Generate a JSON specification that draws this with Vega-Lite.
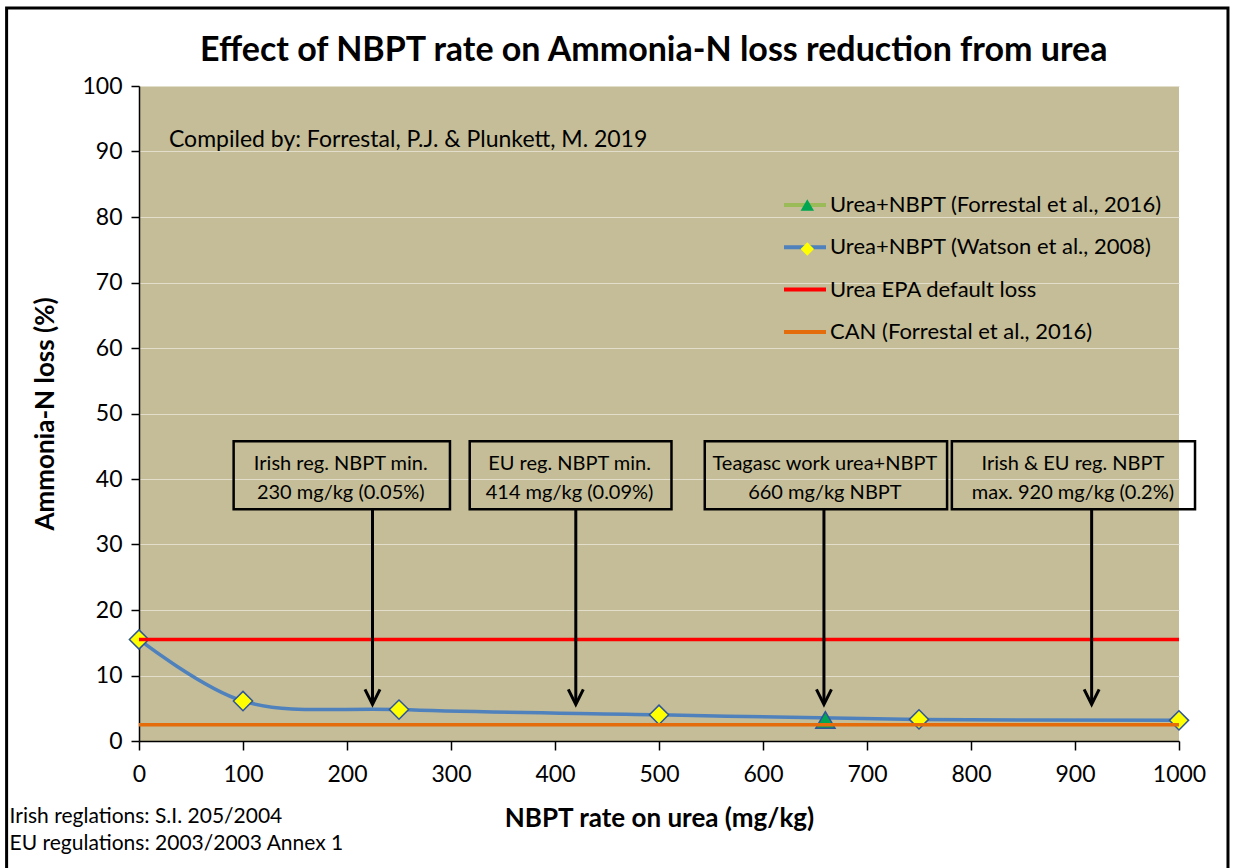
{
  "$schema": "https://vega.github.io/schema/vega-lite/v6.json",
  "width": 1040,
  "height": 655,
  "autosize": "none",
  "padding": {"left": 139, "top": 86, "right": 56, "bottom": 127},
  "background": "white",
  "config": {
    "view": {"stroke": null, "fill": "#C4BD97"},
    "font": "Lato",
    "axis": {
      "domainColor": "black",
      "domainWidth": 1.5,
      "tickColor": "black",
      "tickWidth": 1.5,
      "labelColor": "black",
      "labelFont": "Lato",
      "labelFontSize": 23,
      "titleFont": "Lato",
      "titleFontSize": 26,
      "titleFontWeight": "bold",
      "titleColor": "black"
    }
  },
  "datasets": {
    "series": [
      {"rate": 660, "loss": 3.2, "series": "Urea+NBPT (Forrestal et al., 2016)"},
      {"rate": 0, "loss": 15.5, "series": "Urea+NBPT (Watson et al., 2008)"},
      {"rate": 100, "loss": 6.1, "series": "Urea+NBPT (Watson et al., 2008)"},
      {"rate": 250, "loss": 4.8, "series": "Urea+NBPT (Watson et al., 2008)"},
      {"rate": 500, "loss": 4.0, "series": "Urea+NBPT (Watson et al., 2008)"},
      {"rate": 750, "loss": 3.3, "series": "Urea+NBPT (Watson et al., 2008)"},
      {"rate": 1000, "loss": 3.15, "series": "Urea+NBPT (Watson et al., 2008)"},
      {"rate": 0, "loss": 15.5, "series": "Urea EPA default loss"},
      {"rate": 1000, "loss": 15.5, "series": "Urea EPA default loss"},
      {"rate": 0, "loss": 2.5, "series": "CAN (Forrestal et al., 2016)"},
      {"rate": 1000, "loss": 2.5, "series": "CAN (Forrestal et al., 2016)"}
    ],
    "notes": [
      {"rate": 224.5, "box_start": 91, "box_end": 299, "label_x": 194, "label": "Irish  reg. NBPT min.\n230 mg/kg (0.05%)"},
      {"rate": 420, "box_start": 318, "box_end": 512, "label_x": 414, "label": "EU  reg. NBPT min.\n414 mg/kg (0.09%)"},
      {"rate": 658.6, "box_start": 544, "box_end": 777, "label_x": 659.5, "label": "Teagasc work urea+NBPT\n660 mg/kg NBPT"},
      {"rate": 916, "box_start": 781.6, "box_end": 1015.4, "label_x": 898, "label": "Irish & EU  reg. NBPT\nmax. 920 mg/kg (0.2%)"}
    ],
    "footnotes": [
      {"text": "Irish reglations: S.I. 205/2004", "line": 1},
      {"text": "EU regulations:  2003/2003 Annex 1", "line": 2}
    ]
  },
  "layer": [
    {
      "data": {"name": "series"},
      "transform": [{"filter": "datum.series == 'Urea+NBPT (Watson et al., 2008)'"}],
      "mark": {"type": "line", "interpolate": "catmull-rom", "strokeWidth": 3.5},
      "encoding": {
        "x": {"field": "rate", "type": "quantitative", "scale": {"domain": [0, 1000], "nice": false},
              "title": "NBPT rate on urea (mg/kg)",
              "axis": {"values": [0,100,200,300,400,500,600,700,800,900,1000], "format": "d", "labelFlush": false, "tickSize": 9, "labelPadding": 13, "grid": false, "titlePadding": 19}},
        "y": {"field": "loss", "type": "quantitative", "scale": {"domain": [0, 100], "nice": false},
              "title": "Ammonia-N loss (%)",
              "axis": {"values": [0,10,20,30,40,50,60,70,80,90,100], "format": "d", "tickSize": 8, "labelPadding": 9, "grid": true, "gridColor": "#E2DECB", "gridWidth": 1, "titlePadding": 23}},
        "color": {"field": "series", "type": "nominal",
                  "scale": {"domain": ["Urea+NBPT (Forrestal et al., 2016)", "Urea+NBPT (Watson et al., 2008)", "Urea EPA default loss", "CAN (Forrestal et al., 2016)"],
                            "range": ["#9BBB59", "#4F81BD", "#FF0000", "#E46C0A"]},
                  "legend": {"orient": "none", "legendX": 643, "legendY": 109, "title": null, "symbolType": "stroke", "symbolSize": 1764, "symbolStrokeWidth": 4, "labelFont": "Lato", "labelFontSize": 22, "labelColor": "black", "labelOffset": 2, "rowPadding": 20.3, "clipHeight": 20, "padding": 0, "zindex": 1, "labelLimit": 500}}
      }
    },
    {
      "data": {"name": "series"},
      "transform": [{"filter": "datum.series == 'Urea+NBPT (Watson et al., 2008)' || datum.series == 'Urea+NBPT (Forrestal et al., 2016)'"}],
      "mark": {"type": "point", "filled": true, "opacity": 1, "size": 370, "stroke": "#2F5597", "strokeWidth": 1.5},
      "encoding": {
        "x": {"field": "rate", "type": "quantitative", "title": "NBPT rate on urea (mg/kg)"},
        "y": {"field": "loss", "type": "quantitative", "title": "Ammonia-N loss (%)"},
        "fill": {"field": "series", "type": "nominal",
                 "scale": {"domain": ["Urea+NBPT (Forrestal et al., 2016)", "Urea+NBPT (Watson et al., 2008)"], "range": ["#00A651", "#FFFF00"]},
                 "legend": {"orient": "none", "legendX": 657.3, "legendY": 109, "title": null, "symbolSize": 180, "symbolStrokeColor": "#2F5597", "symbolStrokeWidth": 1.5, "symbolOpacity": 1, "labelFontSize": 22, "labelExpr": "''", "labelOffset": 5, "rowPadding": 22, "clipHeight": 20, "padding": 0, "zindex": 2}},
        "shape": {"field": "series", "type": "nominal",
                  "scale": {"domain": ["Urea+NBPT (Forrestal et al., 2016)", "Urea+NBPT (Watson et al., 2008)"], "range": ["triangle-up", "diamond"]},
                  "legend": {"orient": "none", "legendX": 657.3, "legendY": 109, "title": null, "symbolSize": 180, "symbolStrokeColor": "#2F5597", "symbolStrokeWidth": 1.5, "symbolOpacity": 1, "labelFontSize": 22, "labelExpr": "''", "labelOffset": 5, "rowPadding": 22, "clipHeight": 20, "padding": 0, "zindex": 2}}
      }
    },
    {
      "data": {"name": "series"},
      "transform": [{"filter": "datum.series == 'Urea EPA default loss' || datum.series == 'CAN (Forrestal et al., 2016)'"}],
      "mark": {"type": "line", "strokeWidth": 3.5},
      "encoding": {
        "x": {"field": "rate", "type": "quantitative", "title": "NBPT rate on urea (mg/kg)"},
        "y": {"field": "loss", "type": "quantitative", "title": "Ammonia-N loss (%)"},
        "color": {"field": "series", "type": "nominal"}
      }
    },
    {
      "data": {"name": "notes"},
      "mark": {"type": "rect", "fill": "transparent", "stroke": "black", "strokeWidth": 2.5},
      "encoding": {
        "x": {"field": "box_start", "type": "quantitative", "title": "NBPT rate on urea (mg/kg)"},
        "x2": {"field": "box_end"},
        "y": {"datum": 45.75, "title": "Ammonia-N loss (%)"},
        "y2": {"datum": 35.4}
      }
    },
    {
      "data": {"name": "notes"},
      "mark": {"type": "text", "lineBreak": "\n", "font": "Lato", "fontSize": 20, "lineHeight": 29, "baseline": "middle", "align": "center", "color": "black"},
      "encoding": {
        "x": {"field": "label_x", "type": "quantitative", "title": "NBPT rate on urea (mg/kg)"},
        "y": {"datum": 42.3, "title": "Ammonia-N loss (%)"},
        "text": {"field": "label"}
      }
    },
    {
      "data": {"name": "notes"},
      "mark": {"type": "rule", "stroke": "black", "strokeWidth": 3},
      "encoding": {
        "x": {"field": "rate", "type": "quantitative", "title": "NBPT rate on urea (mg/kg)"},
        "y": {"datum": 35.4, "title": "Ammonia-N loss (%)"},
        "y2": {"datum": 5.8}
      }
    },
    {
      "data": {"name": "notes"},
      "mark": {"type": "point", "shape": "M-1,-2L0,0L1,-2", "filled": false, "opacity": 1, "size": 225, "stroke": "black", "strokeWidth": 3, "strokeJoin": "miter"},
      "encoding": {
        "x": {"field": "rate", "type": "quantitative", "title": "NBPT rate on urea (mg/kg)"},
        "y": {"datum": 5.6, "title": "Ammonia-N loss (%)"}
      }
    },
    {
      "data": {"values": [{"text": "Effect of NBPT rate on Ammonia-N loss reduction from urea"}]},
      "mark": {"type": "text", "font": "Lato", "fontSize": 34, "fontWeight": "bold", "align": "center", "baseline": "alphabetic", "color": "black"},
      "encoding": {
        "x": {"datum": 495, "title": "NBPT rate on urea (mg/kg)"},
        "y": {"datum": 103.8, "title": "Ammonia-N loss (%)"},
        "text": {"field": "text"}
      }
    },
    {
      "data": {"values": [{"text": "Compiled by: Forrestal, P.J. & Plunkett, M. 2019"}]},
      "mark": {"type": "text", "font": "Lato", "fontSize": 23, "align": "left", "baseline": "middle", "color": "black"},
      "encoding": {
        "x": {"datum": 28.8, "title": "NBPT rate on urea (mg/kg)"},
        "y": {"datum": 91.7, "title": "Ammonia-N loss (%)"},
        "text": {"field": "text"}
      }
    },
    {
      "data": {"name": "footnotes"},
      "transform": [{"filter": "datum.line == 1"}],
      "mark": {"type": "text", "font": "Lato", "fontSize": 21, "align": "left", "baseline": "middle", "color": "black"},
      "encoding": {
        "x": {"datum": -124.4, "title": "NBPT rate on urea (mg/kg)"},
        "y": {"datum": -11.65, "title": "Ammonia-N loss (%)"},
        "text": {"field": "text"}
      }
    },
    {
      "data": {"name": "footnotes"},
      "transform": [{"filter": "datum.line == 2"}],
      "mark": {"type": "text", "font": "Lato", "fontSize": 21, "align": "left", "baseline": "middle", "color": "black"},
      "encoding": {
        "x": {"datum": -124.4, "title": "NBPT rate on urea (mg/kg)"},
        "y": {"datum": -15.8, "title": "Ammonia-N loss (%)"},
        "text": {"field": "text"}
      }
    },
    {
      "data": {"values": [{}]},
      "mark": {"type": "rect", "fill": "transparent", "stroke": "black", "strokeWidth": 3},
      "encoding": {
        "x": {"datum": -127.3, "title": "NBPT rate on urea (mg/kg)"},
        "x2": {"datum": 1047.1},
        "y": {"datum": 111.9, "title": "Ammonia-N loss (%)"},
        "y2": {"datum": -21}
      }
    }
  ]
}
